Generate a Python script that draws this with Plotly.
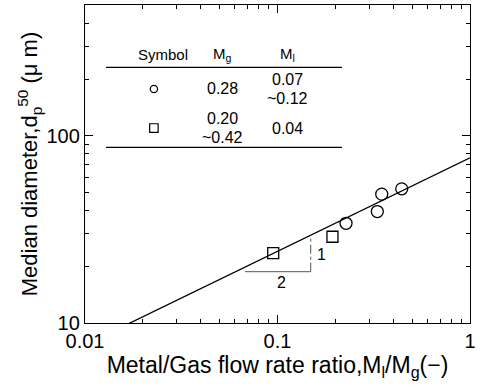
import numpy as np
import plotly.graph_objects as go

# ---- data ----
circle_x = [0.227, 0.330, 0.348, 0.442]
circle_y = [34.1, 39.4, 48.8, 52.1]
square_x = [0.095, 0.193]
square_y = [23.6, 28.9]
fit_coef = 76.4          # d = C * (Ml/Mg)^0.5
fit_slope = 0.5
tri_x = [0.0678, 0.1488]
tri_y = [18.8, 28.5]

table_header = ["Symbol", "M<sub>g</sub>", "M<sub>l</sub>"]
table_mg = [["0.28"], ["0.20", "~0.42"]]
table_ml = [["0.07", "~0.12"], ["0.04"]]

FONT = "Liberation Sans, Arial, Helvetica, sans-serif"

fig = go.Figure()

xf = np.logspace(-2, 0, 50)
fig.add_trace(go.Scatter(x=xf, y=fit_coef * xf ** fit_slope, mode="lines",
                         line=dict(color="black", width=1.3), showlegend=False))
fig.add_trace(go.Scatter(x=[tri_x[0], tri_x[1]], y=[tri_y[0], tri_y[0]], mode="lines",
                         line=dict(color="#555", width=1), showlegend=False))
fig.add_trace(go.Scatter(x=[tri_x[1], tri_x[1]], y=[tri_y[0], tri_y[1]], mode="lines",
                         line=dict(color="#555", width=1, dash="dashdot"), showlegend=False))
fig.add_trace(go.Scatter(x=circle_x, y=circle_y, mode="markers",
                         marker=dict(symbol="circle-open", size=12, color="black",
                                     line=dict(width=1.3)), showlegend=False))
fig.add_trace(go.Scatter(x=square_x, y=square_y, mode="markers",
                         marker=dict(symbol="square-open", size=11, color="black",
                                     line=dict(width=1.3)), showlegend=False))

ann = []
# slope labels (log axes: annotation coords in log10)
ann.append(dict(x=np.log10(np.sqrt(tri_x[0] * tri_x[1]) * 1.05), y=np.log10(tri_y[0]),
                text="2", showarrow=False, xref="x", yref="y", xanchor="center", yanchor="top",
                font=dict(size=16, family=FONT, color="black")))
ann.append(dict(x=np.log10(tri_x[1]) + 0.02, y=np.log10(np.sqrt(tri_y[0] * tri_y[1])),
                text="1", showarrow=False, xref="x", yref="y", xanchor="left", yanchor="middle",
                font=dict(size=16, family=FONT, color="black")))

# table
hx = [0.2026, 0.3584, 0.527]
for t, x in zip(table_header, hx):
    ann.append(dict(x=x, y=0.843, xref="paper", yref="paper", text=t, showarrow=False,
                    xanchor="center", yanchor="middle",
                    font=dict(size=15, family=FONT, color="black")))
row_y = [0.736, 0.613]
for i, ry in enumerate(row_y):
    for col_x, vals in ((hx[1], table_mg[i]), (hx[2], table_ml[i])):
        if len(vals) == 1:
            ys = [ry]
        else:
            ys = [ry + 0.031, ry - 0.031]
        for v, yy in zip(vals, ys):
            ann.append(dict(x=col_x, y=yy, xref="paper", yref="paper", text=v, showarrow=False,
                            xanchor="center", yanchor="middle",
                            font=dict(size=16, family=FONT, color="black")))

shapes = [
    dict(type="line", xref="paper", yref="paper", x0=0.0545, x1=0.6675, y0=0.804, y1=0.804,
         line=dict(color="black", width=1.3)),
    dict(type="line", xref="paper", yref="paper", x0=0.0545, x1=0.6675, y0=0.5525, y1=0.5525,
         line=dict(color="black", width=1.3)),
    dict(type="circle", xref="paper", yref="paper", x0=0.179 - 0.0095, x1=0.179 + 0.0095,
         y0=0.736 - 0.0115, y1=0.736 + 0.0115, line=dict(color="black", width=1.2)),
    dict(type="rect", xref="paper", yref="paper", x0=0.179 - 0.011, x1=0.179 + 0.011,
         y0=0.613 - 0.0135, y1=0.613 + 0.0135, line=dict(color="black", width=1.2)),
]

axis_common = dict(type="log", showgrid=False, zeroline=False, showline=True, linecolor="black",
                   linewidth=1.3, mirror="allticks", ticks="inside", ticklen=8, tickwidth=1,
                   tickcolor="black", tickfont=dict(size=20, family=FONT, color="black"))

fig.update_layout(
    width=483, height=387, margin=dict(l=85, r=13, t=5, b=64),
    paper_bgcolor="white", plot_bgcolor="white",
    font=dict(family=FONT, color="black"),
    xaxis=dict(**axis_common, range=[-2, 0], tickvals=[0.01, 0.1, 1], ticktext=["0.01", "0.1", "1"],
               minor=dict(tickvals=[k * 10.0 ** e for e in (-2, -1) for k in range(2, 10)],
                          ticks="inside", ticklen=4, tickcolor="black", showgrid=False),
               title=dict(text="Metal/Gas flow rate ratio,M<sub>l</sub>/M<sub>g</sub>(−)",
                          font=dict(size=23, family=FONT), standoff=0)),
    yaxis=dict(**axis_common, range=[1, np.log10(500)], tickvals=[10, 100], ticktext=["10", "100"],
               minor=dict(tickvals=[k * 10.0 ** e for e in (1, 2) for k in range(2, 10)],
                          ticks="inside", ticklen=4, tickcolor="black", showgrid=False),
               title=dict(text="Median diameter,d<sub>p</sub><sup>50</sup> (μ m)",
                          font=dict(size=22, family=FONT), standoff=2)),
    annotations=ann, shapes=shapes,
)

fig.write_html("out.html")
